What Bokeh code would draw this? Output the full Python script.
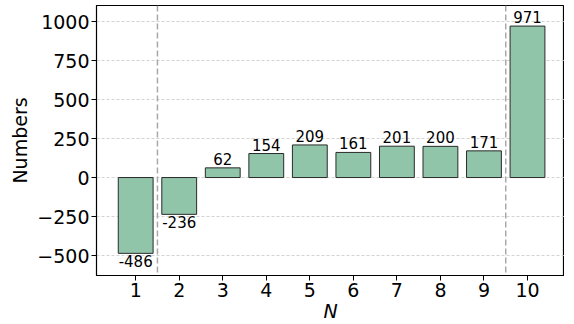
from bokeh.plotting import figure
from bokeh.models import ColumnDataSource, Span, FixedTicker, LabelSet
from bokeh.core.properties import value
from bokeh.embed import file_html
from bokeh.resources import INLINE

categories = [1, 2, 3, 4, 5, 6, 7, 8, 9, 10]
values = [-486, -236, 62, 154, 209, 161, 201, 200, 171, 971]
y_ticks = [-500, -250, 0, 250, 500, 750, 1000]
y_tick_labels = ["\u2212500", "\u2212250", "0", "250", "500", "750", "1000"]
split_lines = [1.5, 9.5]

FONT = "DejaVu Sans"

p = figure(frame_width=468, frame_height=270, output_backend="svg", toolbar_location=None,
           x_range=(0.1, 10.85), y_range=(-628, 1103),
           min_border_left=96, min_border_right=0, min_border_top=5, min_border_bottom=0)

src = ColumnDataSource(dict(x=categories, top=values))

p.ygrid.grid_line_color = "#c8c8c8"
p.ygrid.grid_line_dash = "3 2"
p.ygrid.grid_line_width = 0.8
p.xgrid.grid_line_color = None

p.vbar(x="x", top="top", bottom=0, width=0.8, source=src,
       fill_color="#90c5a9", line_color="#2a2a2a", line_width=1)

for xv in split_lines:
    p.add_layout(Span(location=xv, dimension="height", line_color="#a8a8a8",
                      line_dash="6 3", line_width=1.5))

pos_src = ColumnDataSource(dict(x=[c for c, v in zip(categories, values) if v >= 0],
                                y=[v for v in values if v >= 0],
                                t=[str(v) for v in values if v >= 0]))
neg_src = ColumnDataSource(dict(x=[c for c, v in zip(categories, values) if v < 0],
                                y=[v for v in values if v < 0],
                                t=[str(v) for v in values if v < 0]))
p.add_layout(LabelSet(x="x", y="y", text="t", source=pos_src, text_align="center",
                      text_baseline="bottom", y_offset=3, text_font=value(FONT),
                      text_font_size="15px", text_color="black"))
p.add_layout(LabelSet(x="x", y="y", text="t", source=neg_src, text_align="center",
                      text_baseline="top", y_offset=-2, text_font=value(FONT),
                      text_font_size="15px", text_color="black"))

p.yaxis.ticker = FixedTicker(ticks=y_ticks)
p.yaxis.major_label_overrides = {t: l for t, l in zip(y_ticks, y_tick_labels)}
p.xaxis.ticker = FixedTicker(ticks=categories)

for ax in (p.xaxis[0], p.yaxis[0]):
    ax.major_label_text_font = FONT
    ax.major_label_text_font_size = "19px"
    ax.major_label_text_color = "black"
    ax.axis_label_text_font = FONT
    ax.axis_label_text_font_size = "19px"
    ax.axis_label_text_color = "black"
    ax.axis_label_text_font_style = "normal"
    ax.minor_tick_line_color = None
    ax.major_tick_in = 0
    ax.major_tick_out = 5
    ax.major_tick_line_color = "black"
    ax.axis_line_color = "black"
    ax.major_label_standoff = 2

p.yaxis.axis_label = "Numbers"
p.xaxis.axis_label = "N"
p.xaxis.axis_label_text_font_style = "italic"
p.xaxis.axis_label_standoff = 0
p.yaxis.axis_label_standoff = 3

p.outline_line_color = "black"
p.outline_line_width = 1.2

open("out.html", "w").write(file_html(p, INLINE))
